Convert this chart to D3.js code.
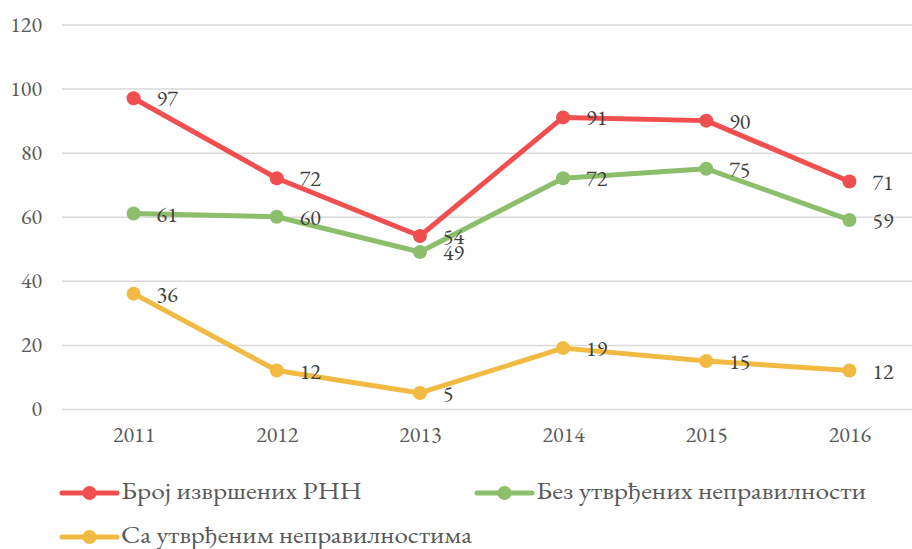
<!DOCTYPE html>
<html><head><meta charset="utf-8">
<script src="https://cdn.jsdelivr.net/npm/d3@7"></script>
<style>body{margin:0;background:#fff;} svg{display:block;}</style>
</head><body>
<div id="chart"></div>
<script>
const years = ["2011","2012","2013","2014","2015","2016"];
const seriesNames = ["Број извршених РНН","Без утврђених неправилности","Са утврђеним неправилностима"];
const totalDone = [97,72,54,91,90,71];
const noIrregular = [61,60,49,72,75,59];
const withIrregular = [36,12,5,19,15,12];
const yTicks = [0,20,40,60,80,100,120];
const colors = ["#F04F4F","#8CBE6C","#F1BA43"];

const W=912,H=549;
const FF = "'EB Garamond'";
const svg = d3.select("#chart").append("svg").attr("width",W).attr("height",H);
const x = d3.scalePoint().domain(years).range([62,921]).padding(0.5);
const y = d3.scaleLinear().domain([0,120]).range([409,24.5]);

// gridlines + y tick labels
const yAxis = d3.axisLeft(y).tickValues(yTicks).tickSize(-(921-62)).tickPadding(20);
const gy = svg.append("g").attr("transform","translate(62,0)").call(yAxis);
gy.select(".domain").remove();
gy.selectAll(".tick line").attr("stroke","#D9D9D9").attr("stroke-width",1.5);
gy.selectAll(".tick text").attr("fill","#595959").style("font-family",FF).style("font-size","22px").attr("dy","0.3em");

const xAxis = d3.axisBottom(x).tickSize(0).tickPadding(20);
const gx = svg.append("g").attr("transform","translate(0,409)").call(xAxis);
gx.select(".domain").remove();
gx.selectAll(".tick text").attr("fill","#595959").style("font-family",FF).style("font-size","22px").attr("dy","0.6em");

const allSeries = [totalDone,noIrregular,withIrregular];
const line = d3.line().x((d,i)=>x(years[i])).y(d=>y(d));
[2,1,0].forEach(si=>{
  const data = allSeries[si];
  const g = svg.append("g");
  g.append("path").datum(data).attr("d",line).attr("fill","none")
    .attr("stroke",colors[si]).attr("stroke-width",5).attr("stroke-linejoin","round").attr("stroke-linecap","round");
  g.selectAll("circle").data(data).join("circle")
    .attr("cx",(d,i)=>x(years[i])).attr("cy",d=>y(d)).attr("r",7).attr("fill",colors[si]);
});
[2,1,0].forEach(si=>{
  const data = allSeries[si];
  svg.append("g").selectAll("text").data(data).join("text")
    .attr("x",(d,i)=>x(years[i])+23).attr("y",d=>y(d)+8)
    .attr("fill","#404040").style("font-family",FF).style("font-size","22px")
    .text(d=>d);
});

// legend
const legendPos = [[62,493],[477,493],[62,537]];
const legendWidths = [241,330,351];
seriesNames.forEach((name,si)=>{
  const [lx,ly] = legendPos[si];
  const g = svg.append("g").attr("transform",`translate(${lx},${ly})`);
  g.append("line").attr("x1",0).attr("x2",55).attr("y1",0).attr("y2",0)
    .attr("stroke",colors[si]).attr("stroke-width",5).attr("stroke-linecap","round");
  g.append("circle").attr("cx",27.5).attr("cy",0).attr("r",7).attr("fill",colors[si]);
  g.append("text").attr("x",59).attr("y",6).attr("fill","#595959")
    .style("font-family",FF).style("font-size","25px")
    .attr("textLength",legendWidths[si]).attr("lengthAdjust","spacingAndGlyphs").text(name);
});
</script>
</body></html>
